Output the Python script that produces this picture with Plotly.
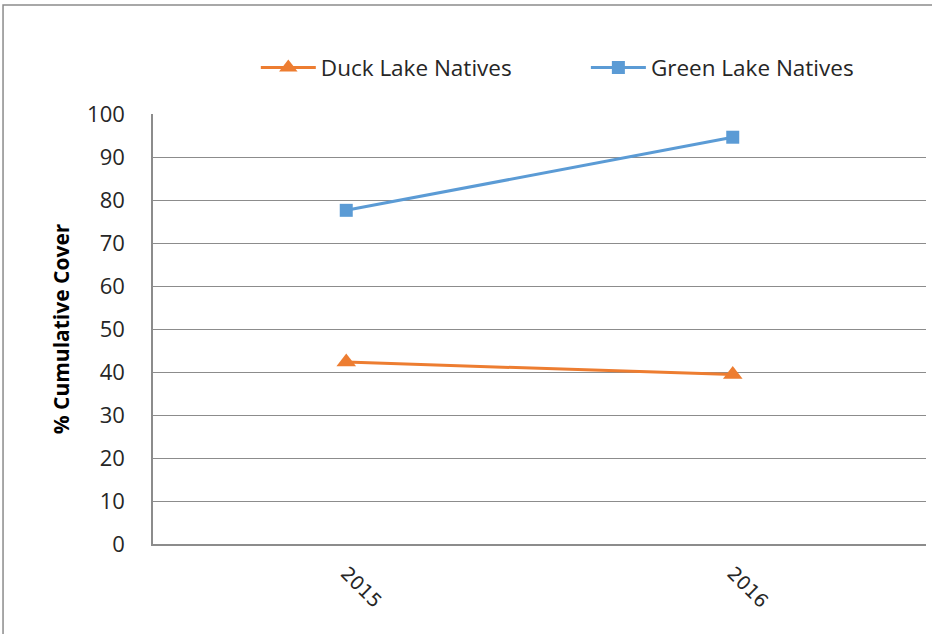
import plotly.graph_objects as go

years = ["2015", "2016"]
duck_natives = [42.3, 39.4]
green_natives = [77.6, 94.6]
y_ticks = [0, 10, 20, 30, 40, 50, 60, 70, 80, 90, 100]

fig = go.Figure()
fig.add_trace(go.Scatter(
    x=years, y=duck_natives, name="Duck Lake Natives", mode="lines+markers",
    line=dict(color="#ED7D31", width=3),
    marker=dict(symbol="triangle-up", size=17, color="#ED7D31"),
    legend="legend",
))
fig.add_trace(go.Scatter(
    x=years, y=green_natives, name="Green Lake Natives", mode="lines+markers",
    line=dict(color="#5B9BD5", width=3),
    marker=dict(symbol="square", size=13, color="#5B9BD5"),
    legend="legend2",
))

leg_common = dict(orientation="h", y=1.107, xanchor="left", yanchor="middle",
                  font=dict(family="Open Sans", size=22.5, color="#262626"),
                  itemwidth=55, bgcolor="rgba(0,0,0,0)")

fig.update_layout(
    width=932, height=634,
    margin=dict(l=153, r=6, t=114, b=90),
    paper_bgcolor="white", plot_bgcolor="white",
    font=dict(family="Open Sans", color="#262626"),
    showlegend=True,
    legend=dict(x=0.133, **leg_common),
    legend2=dict(x=0.56, **leg_common),
    shapes=[dict(type="rect", xref="paper", yref="paper",
                 x0=-0.194, x1=1.2, y0=-0.4, y1=1.2535,
                 line=dict(color="#8c8c8c", width=1.5), layer="below")],
)
fig.update_xaxes(
    type="category", range=[-0.5, 1.5],
    tickangle=45, tickfont=dict(family="DejaVu Sans", size=19, color="#262626"),
    showline=True, linecolor="#8c8c8c", linewidth=1.5,
    showgrid=False, ticks="", ticklen=0, ticklabelstandoff=9,
)
fig.update_yaxes(
    range=[0, 100], tickvals=y_ticks,
    tickfont=dict(size=22, color="#262626"),
    showgrid=True, gridcolor="#8c8c8c", gridwidth=1,
    showline=True, linecolor="#8c8c8c", linewidth=1.5,
    zeroline=False, ticks="", ticklabelstandoff=22,
    title=dict(text="<b>% Cumulative Cover</b>", font=dict(size=21, color="#000000"), standoff=12),
)

fig.write_html("out.html",
               config={"displayModeBar": False},
               post_script="document.body.style.margin='0';document.body.style.overflow='hidden';")
